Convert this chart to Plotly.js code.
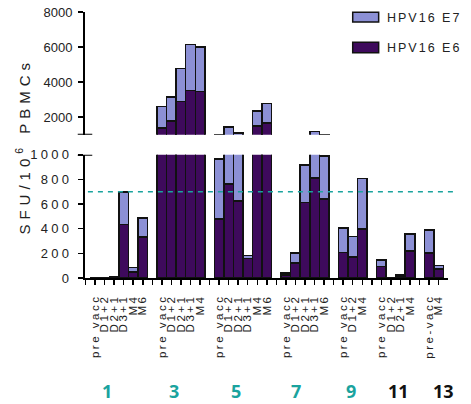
<!DOCTYPE html>
<html>
<head>
<meta charset="utf-8">
<script src="https://cdn.plot.ly/plotly-3.0.1.min.js"></script>
<style>
  html, body { margin: 0; padding: 0; background: #fff; }
  #chart { width: 471px; height: 404px; }
  .ytick text { letter-spacing: 3.3px; }
  .xtick text { letter-spacing: 2.5px; }
  g.annotation[data-index="0"] text { letter-spacing: 5px; }
  g.annotation[data-index="1"] text,
  g.annotation[data-index="2"] text { letter-spacing: 2px; }
</style>
</head>
<body>
<div id="chart"></div>
<script>
// Patients and their sampling time points
const groups = ['1', '3', '5', '7', '9', '11', '13'];
const timepoints = [
  ['pre vacc', 'D1+2', 'D2+1', 'D3+1', 'M4', 'M6'],
  ['pre vacc', 'D1+2', 'D2+1', 'D3+1', 'M4'],
  ['pre vacc', 'D1+2', 'D2+1', 'D3+1', 'M4', 'M6'],
  ['pre vacc', 'D1+2', 'D2+1', 'D3+1', 'M6'],
  ['pre vacc', 'D1+2', 'M4'],
  ['pre vacc', 'D1+2', 'D2+1', 'M4'],
  ['pre-vacc', 'M4']
];
// SFU per 10^6 PBMCs for each peptide pool
const e6 = [
  [2, 3, 6, 435, 48, 333],
  [1369, 1770, 2878, 3526, 3469],
  [481, 765, 627, 157, 1501, 1656],
  [25, 122, 613, 811, 643],
  [208, 170, 397],
  [94, 4, 15, 219],
  [203, 75]
];
const e7 = [
  [0, 1, 2, 262, 37, 154],
  [1239, 1377, 1911, 2605, 2524],
  [484, 661, 453, 26, 861, 1107],
  [15, 81, 306, 369, 349],
  [197, 165, 411],
  [54, 2, 9, 140],
  [186, 25]
];
const responseThreshold = 700;

// Lay the groups out on one numeric axis with an empty slot between patients
const xs = [], e6Flat = [], e7Flat = [], tickVals = [], tickText = [];
let slot = 0;
groups.forEach((g, gi) => {
  if (gi > 0) slot++;
  timepoints[gi].forEach((tp, ti) => {
    xs.push(slot);
    e6Flat.push(e6[gi][ti]);
    e7Flat.push(e7[gi][ti]);
    tickVals.push(slot);
    tickText.push(tp);
    slot++;
  });
});

const COLOR_E6 = '#3e0a5c';
const COLOR_E7 = '#8c90d5';
const TEAL = '#1aa39e';
const FONT = 'Liberation Sans, Arial, sans-serif';

function barTrace(name, y, color, yaxis) {
  return {
    type: 'bar', name: name, x: xs, y: y, yaxis: yaxis,
    marker: { color: color, line: { color: '#111', width: 1.5 } },
    showlegend: false, hoverinfo: 'x+y+name'
  };
}

const traces = [
  barTrace('HPV16 E6', e6Flat, COLOR_E6, 'y'),
  barTrace('HPV16 E7', e7Flat, COLOR_E7, 'y'),
  barTrace('HPV16 E6', e6Flat, COLOR_E6, 'y2'),
  barTrace('HPV16 E7', e7Flat, COLOR_E7, 'y2')
];

// Group labels under the time points
const groupLabelX = [1.3, 8.3, 14.8, 21.1, 26.8, 31.8, 36.5];
const groupAnnotations = groups.map((g, i) => ({
  text: '<b>' + g + '</b>', xref: 'x', yref: 'paper',
  x: groupLabelX[i], y: -0.425, xanchor: 'center', yanchor: 'middle',
  showarrow: false,
  font: { family: 'Open Sans, sans-serif', size: 18, color: (g === '11' || g === '13') ? '#111' : TEAL }
}));

const annotations = [
  {
    text: 'SFU/10<sup>6</sup> PBMCs', xref: 'paper', yref: 'paper',
    x: -0.17, y: 0.497, xanchor: 'center', yanchor: 'middle', textangle: -90,
    showarrow: false, font: { family: FONT, size: 15, color: '#222' }
  },
  {
    text: 'HPV16 E7', xref: 'paper', yref: 'paper', x: 0.8485, y: 0.9775,
    xanchor: 'left', yanchor: 'middle', showarrow: false,
    font: { family: FONT, size: 12.5, color: '#222' }
  },
  {
    text: 'HPV16 E6', xref: 'paper', yref: 'paper', x: 0.8485, y: 0.8648,
    xanchor: 'left', yanchor: 'middle', showarrow: false,
    font: { family: FONT, size: 12.5, color: '#222' }
  }
].concat(groupAnnotations);

const shapes = [
  // legend swatches
  { type: 'rect', xref: 'paper', yref: 'paper', x0: 0.7375, x1: 0.809, y0: 0.9624, y1: 0.9989,
    fillcolor: COLOR_E7, line: { color: '#111', width: 1.5 } },
  { type: 'rect', xref: 'paper', yref: 'paper', x0: 0.7375, x1: 0.809, y0: 0.8472, y1: 0.8862,
    fillcolor: COLOR_E6, line: { color: '#111', width: 1.5 } },
  // response threshold
  { type: 'line', xref: 'paper', yref: 'y', x0: 0.008, x1: 1.019,
    y0: responseThreshold, y1: responseThreshold,
    line: { color: TEAL, width: 1.5, dash: '5px,5px' } },
  // axis break marks
  { type: 'line', xref: 'paper', yref: 'y', x0: -0.02, x1: 0.02, y0: 1000, y1: 1000,
    line: { color: '#000', width: 2 } },
  { type: 'line', xref: 'paper', yref: 'y2', x0: -0.02, x1: 0.02, y0: 1000, y1: 1000,
    line: { color: '#000', width: 2 } }
];

const yCommon = {
  showline: true, linecolor: '#000', linewidth: 2,
  ticks: 'outside', ticklen: 5, tickwidth: 1.5, tickcolor: '#000',
  showgrid: false, zeroline: false, ticklabelstandoff: 3,
  tickfont: { family: FONT, size: 13, color: '#222' }, fixedrange: true
};

const layout = {
  width: 471, height: 404,
  margin: { l: 85, r: 23, t: 12, b: 126 },
  paper_bgcolor: '#fff', plot_bgcolor: '#fff',
  barmode: 'stack', bargap: 0,
  showlegend: false,
  xaxis: {
    range: [-1.05, 36.98], tickmode: 'array', tickvals: tickVals, ticktext: tickText,
    tickangle: -90, ticks: 'outside', ticklen: 5, tickwidth: 1.5, tickcolor: '#000',
    minor: { tickmode: 'linear', tick0: 0, dtick: 1, ticks: 'outside', ticklen: 5,
             tickwidth: 1.5, tickcolor: '#000', showgrid: false },
    ticklabelstandoff: 5,
    showline: true, linecolor: '#000', linewidth: 2, showgrid: false, zeroline: false,
    tickfont: { family: FONT, size: 11.5, color: '#222' }, fixedrange: true, anchor: 'y'
  },
  yaxis: Object.assign({}, yCommon, {
    domain: [0, 0.463], range: [0, 1000], tickmode: 'array',
    tickvals: [0, 200, 400, 600, 800, 1000], anchor: 'x'
  }),
  yaxis2: Object.assign({}, yCommon, {
    domain: [0.539, 1], range: [1000, 8000], tickmode: 'array',
    tickvals: [2000, 4000, 6000, 8000], anchor: 'x'
  }),
  annotations: annotations,
  shapes: shapes
};

Plotly.newPlot('chart', traces, layout, { staticPlot: true, displayModeBar: false });
</script>
</body>
</html>
